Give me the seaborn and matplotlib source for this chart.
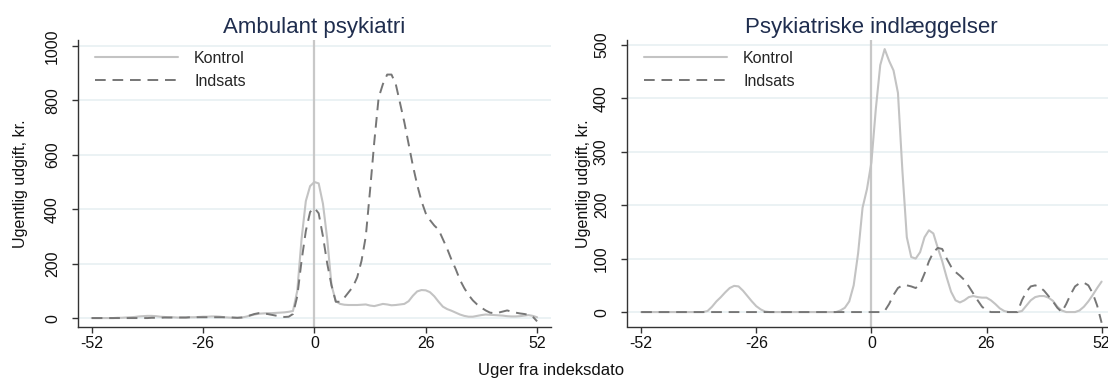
import numpy as np
import pandas as pd
import matplotlib
matplotlib.use("Agg")
import matplotlib.pyplot as plt
import seaborn as sns

weeks = list(range(-52, 53))

# Ambulant psykiatri
amb_kontrol = [0, 0, 0, 0, 0, 0, 1, 1, 2, 3, 4, 6, 7, 8, 8, 7, 5, 4, 3, 3,
               2, 2, 2, 3, 3, 4, 5, 5, 6, 6, 5, 3, 2, 1, 1, 2, 5, 9, 13, 16,
               17, 18, 18, 19, 20, 21, 23, 26, 100, 290, 430, 485, 500, 495, 420, 290, 120, 62, 52, 49,
               48, 48, 48, 49, 50, 46, 44, 48, 52, 50, 47, 48, 50, 52, 62, 82, 98, 103, 102, 95,
               80, 60, 42, 33, 27, 20, 13, 8, 5, 5, 8, 11, 13, 12, 11, 10, 9, 7, 6, 6,
               7, 9, 11, 8, 3]
amb_indsats = [0, 0, 0, 0, 0, 0, 0, 0, 0, 0, 0, 0, 0, 0, 1, 1, 1, 2, 2, 2,
               2, 2, 2, 3, 3, 3, 3, 3, 3, 3, 3, 3, 3, 2, 1, 2, 5, 10, 15, 18,
               17, 15, 12, 9, 6, 4, 5, 15, 80, 210, 320, 390, 405, 385, 300, 200, 120, 60, 60, 75,
               95, 115, 150, 210, 300, 470, 650, 810, 860, 895, 895, 860, 790, 720, 640, 560, 490, 430, 385, 360,
               340, 325, 290, 255, 215, 180, 140, 110, 85, 65, 50, 38, 28, 20, 18, 20, 24, 28, 24, 20,
               17, 15, 12, 5, -12]

# Psykiatriske indlaeggelser
ind_kontrol = [0, 0, 0, 0, 0, 0, 0, 0, 0, 0, 0, 0, 0, 0, 0, 2, 10, 20, 28, 37,
               45, 49, 48, 40, 30, 20, 11, 5, 1, 0, 0, 0, 0, 0, 0, 0, 0, 0, 0, 0,
               0, 0, 0, 0, 0, 3, 8, 20, 50, 110, 195, 230, 280, 380, 462, 492, 470, 452, 410, 265,
               140, 103, 100, 112, 140, 153, 147, 120, 95, 65, 38, 22, 18, 22, 28, 30, 28, 27, 27, 22,
               15, 7, 2, 0, 0, 0, 2, 12, 22, 28, 30, 30, 27, 21, 10, 3, 0, 0, 0, 3,
               10, 20, 32, 45, 57]
ind_indsats = [0, 0, 0, 0, 0, 0, 0, 0, 0, 0, 0, 0, 0, 0, 0, 0, 0, 0, 0, 0,
               0, 0, 0, 0, 0, 0, 0, 0, 0, 0, 0, 0, 0, 0, 0, 0, 0, 0, 0, 0,
               0, 0, 0, 0, 0, 0, 0, 0, 0, 0, 0, 0, 0, 0, 0, 2, 15, 32, 45, 50,
               50, 48, 45, 52, 72, 95, 112, 120, 118, 100, 85, 75, 68, 60, 48, 35, 22, 10, 3, 0,
               0, 0, 0, 0, 0, 0, 22, 38, 48, 50, 47, 40, 30, 20, 8, 0, 15, 33, 48, 54,
               55, 50, 35, 12, -20]

titles = ["Ambulant psykiatri", "Psykiatriske indlæggelser"]
series_labels = ["Kontrol", "Indsats"]
xticks = [-52, -26, 0, 26, 52]
yticks_amb = [0, 200, 400, 600, 800, 1000]
yticks_ind = [0, 100, 200, 300, 400, 500]

sns.set_theme(style="white")
plt.rcParams["font.family"] = ["Liberation Sans", "DejaVu Sans"]

FS = 11.5
C_KON = "#c3c3c3"
C_IND = "#767676"
GRID = "#e9f1f3"
TITLE_C = "#1f2d4e"

fig = plt.figure(figsize=(11.08, 3.8), dpi=100)
W, H = 1108, 380
ax1 = fig.add_axes([78 / W, 53.5 / H, 473 / W, 286.5 / H])
ax2 = fig.add_axes([627 / W, 53.5 / H, 489 / W, 286.5 / H])

panels = [
    (ax1, amb_kontrol, amb_indsats, yticks_amb, (-31, 1022), titles[0], (28 - 78) / 473, 473),
    (ax2, ind_kontrol, ind_indsats, yticks_ind, (-27, 509), titles[1], (591 - 627) / 489, 489),
]

for ax, kon, ind, yt, yl, title, ylx, wpx in panels:
    for yv in yt:
        ax.axhline(yv, color=GRID, lw=1.3, zorder=0)
    ax.axvline(0, color="#c8c8c8", lw=1.6, zorder=1)
    df = pd.DataFrame({"week": weeks, "Kontrol": kon, "Indsats": ind})
    sns.lineplot(data=df, x="week", y="Kontrol", ax=ax, color=C_KON, lw=1.5,
                 label=series_labels[0], zorder=2)
    sns.lineplot(data=df, x="week", y="Indsats", ax=ax, color=C_IND, lw=1.4,
                 linestyle=(0, (5.5, 3.5)), label=series_labels[1], zorder=3)
    ax.set_xlim(-55.2, 55.25)
    ax.set_ylim(*yl)
    ax.set_xticks(xticks)
    ax.set_xticklabels([str(t) for t in xticks])
    ax.set_yticks(yt)
    ax.set_yticklabels([str(t) for t in yt], rotation=90, va="center")
    ax.tick_params(axis="both", which="major", direction="out", length=4,
                   width=1, color="#333333", labelsize=FS, labelcolor="#111111",
                   bottom=True, left=True)
    ax.tick_params(axis="x", pad=3)
    ax.tick_params(axis="y", pad=9)
    for s in ["top", "right"]:
        ax.spines[s].set_visible(False)
    for s in ["left", "bottom"]:
        ax.spines[s].set_color("#333333")
        ax.spines[s].set_linewidth(1.0)
    ax.set_xlabel("")
    ax.set_ylabel("Ugentlig udgift, kr.", fontsize=FS, color="#111111")
    ax.yaxis.set_label_coords(ylx, 0.5)
    ax.set_title(title, fontsize=16, color=TITLE_C, pad=5)
    ax.grid(False)
    ax.legend(loc="upper left", bbox_to_anchor=(17 / wpx, 1 - 11 / 286.5),
              frameon=False, fontsize=FS, handlelength=5.2,
              handletextpad=1.0, labelspacing=0.5, borderaxespad=0,
              borderpad=0)

fig.text(551 / W, 1 - 371 / H, "Uger fra indeksdato", ha="center", va="center",
         fontsize=12, color="#111111")

fig.savefig("out.png", dpi=100)
